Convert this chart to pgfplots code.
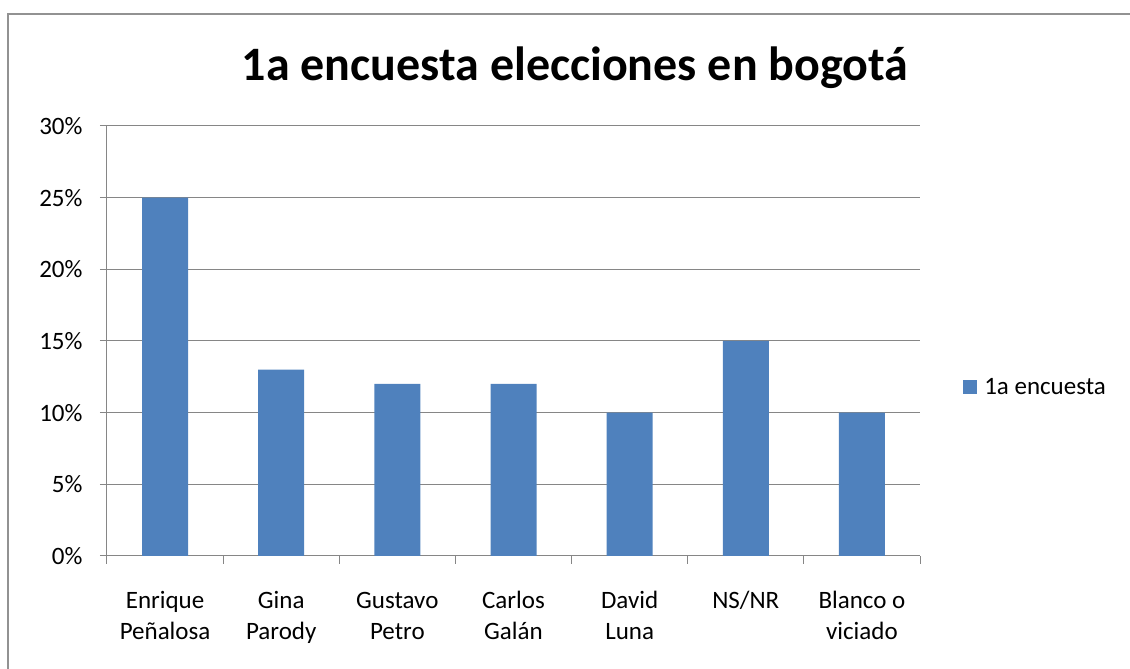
\documentclass[border=0pt]{standalone}
\usepackage{pgfplots}
\pgfplotsset{compat=1.18}
\usepackage{fontspec}
\setmainfont{Carlito}
\definecolor{barblue}{HTML}{4F81BD}
\definecolor{gridgray}{HTML}{868686}
\newcommand{\lt}{\rule{0pt}{20bp}}
\begin{document}
\begin{tikzpicture}[x=1bp,y=1bp]
% picture area (bp = px of the reference)
\useasboundingbox (-107,-113) rectangle (1023,556);
% outer chart frame, cut by the picture edge
\draw[gridgray!90, line width=1.6bp] (-99,-113) -- (-99,542) -- (1023,542);
\begin{axis}[
  at={(0,0)}, anchor=south west,
  scale only axis, width=813bp, height=430bp,
  xmin=-0.5, xmax=6.5, ymin=0, ymax=30,
  axis x line*=bottom, axis y line*=left,
  axis line style={gridgray, line width=1bp, -},
  ybar, bar width=46bp,
  xtick={0,...,6},
  xticklabels={\lt Enrique\\Peñalosa, \lt Gina\\Parody, \lt Gustavo\\Petro, \lt Carlos\\Galán, \lt David\\Luna, \lt NS/NR, \lt Blanco o\\viciado},
  major x tick style={draw=none},
  minor xtick={-0.5,0.5,...,6.5},
  minor x tick style={gridgray, line width=1bp},
  ytick={0,5,...,30},
  yticklabels={0\%,5\%,10\%,15\%,20\%,25\%,30\%},
  tick align=outside,
  major tick length=7bp, minor tick length=8bp,
  y tick style={gridgray, line width=1bp},
  ymajorgrids, grid style={gridgray, line width=1bp},
  tick label style={font=\fontsize{25bp}{31bp}\selectfont},
  xticklabel style={align=center, anchor=north, inner sep=0pt, yshift=-25bp},
  yticklabel style={xshift=-14bp},
  title={\textbf{1a encuesta elecciones en bogotá}},
  title style={at={(0.5757,1.092)}, anchor=base, font=\fontsize{48bp}{54bp}\selectfont},
  legend style={at={(1.053,0.393)}, anchor=west, draw=none, fill=none,
    font=\fontsize{25bp}{30bp}\selectfont, inner sep=0pt,
    /tikz/every even column/.append style={column sep=0pt}},
  legend image code/.code={\fill[#1] (0bp,-7bp) rectangle (14bp,7bp);},
  legend cell align=left,
]
\addplot[fill=barblue, draw=none] coordinates {(0,25) (1,13) (2,12) (3,12) (4,10) (5,15) (6,10)};
\addlegendentry{\hspace{5bp}1a encuesta}
\end{axis}
\end{tikzpicture}
\end{document}
